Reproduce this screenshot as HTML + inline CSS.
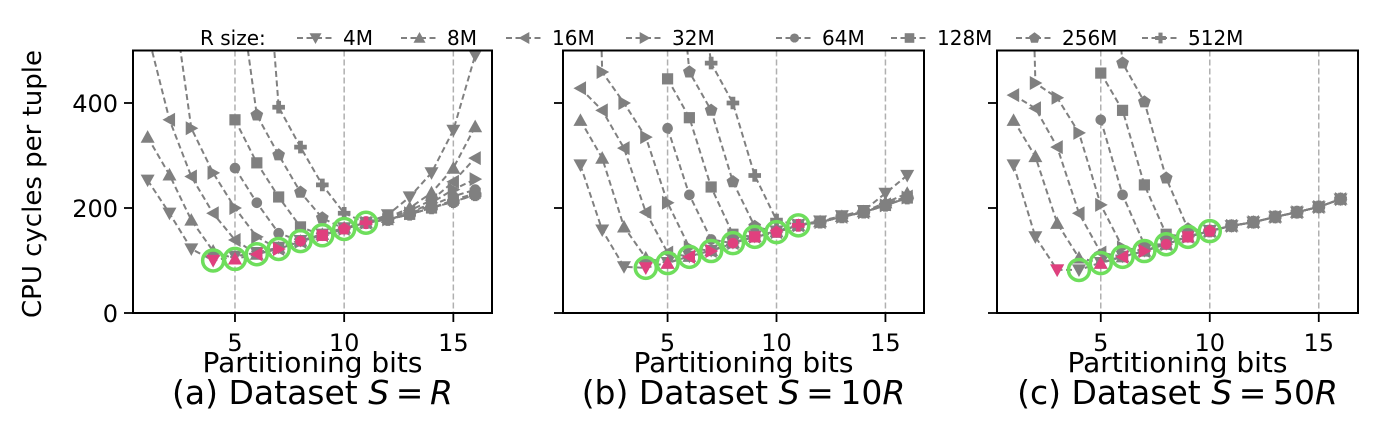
<!DOCTYPE html>
<html><head><meta charset="utf-8">
<style>
html,body{margin:0;padding:0;background:#fff;}
svg{display:block;font-family:"DejaVu Sans","Liberation Sans",sans-serif;}
</style></head>
<body>
<svg id="chart" width="1377" height="430" viewBox="0 0 1377 430" xmlns="http://www.w3.org/2000/svg"></svg>
<script>
const seriesNames = ['4M','8M','16M','32M','64M','128M','256M','512M'];
const markerShapes = ['tdown','tup','tleft','tright','circle','square','pentagon','plus'];
const xBits = [1,2,3,4,5,6,7,8,9,10,11,12,13,14,15,16];
const yTicks = [0,200,400];
const xTicks = [5,10,15];
// panel a
const a4M   = [253,190,122,100,108,115,125,138,150,162,172,187,221,267,348,491];
const a8M   = [335,263,177,118,103,112,124,137,150,162,172,182,200,229,276,355];
const a16M  = [533,368,260,190,139,112,122,136,148,160,172,180,195,215,250,295];
const a32M  = [null,650,352,267,200,145,122,136,148,160,172,178,190,210,235,255];
const a64M  = [null,null,null,null,276,210,152,137,150,160,172,178,190,205,222,235];
const a128M = [null,null,null,null,368,286,221,164,148,162,172,178,188,200,215,228];
const a256M = [null,null,null,null,680,377,301,230,181,160,172,178,188,200,212,225];
const a512M = [null,null,null,null,null,930,392,316,244,190,172,178,188,200,212,225];
const aOptX = [4,5,6,7,8,9,10,11];
const aOptY = [100,103,112,122,137,148,160,172];
const aOptShape = [0,1,2,3,4,5,6,7];
const aRingX = [4,5,6,7,8,9,10,11];
// panel b
const b4M   = [282,158,88,86,96,108,119,134,146,156,168,175,185,195,228,262];
const b8M   = [367,295,164,105,95,108,119,134,146,155,167,174,184,193,210,228];
const b16M  = [428,386,314,192,115,107,118,133,145,154,167,173,183,192,207,222];
const b32M  = [2000,459,400,335,210,125,118,133,145,154,167,173,183,192,205,220];
const b64M  = [null,null,null,null,352,225,140,133,145,154,167,173,183,192,205,219];
const b128M = [null,null,null,null,446,372,240,150,145,154,167,173,183,192,205,219];
const b256M = [null,null,null,null,900,459,386,250,165,154,167,173,183,192,205,219];
const b512M = [null,null,null,null,null,800,476,400,262,177,167,173,183,192,205,219];
const bOptX = [4,5,6,7,8,9,10,11];
const bOptY = [86,95,107,118,133,145,154,167];
const bOptShape = [0,1,2,3,4,5,6,7];
const bRingX = [4,5,6,7,8,9,10,11];
// panel c
const c4M   = [282,145,82,82,96,108,119,132,146,157,166,173,183,192,202,217];
const c8M   = [367,298,171,105,95,107,118,131,145,156,166,173,183,192,202,217];
const c16M  = [415,390,316,190,115,107,118,131,145,156,166,173,183,192,202,217];
const c32M  = [2000,438,410,343,206,125,118,131,145,156,166,173,183,192,202,217];
const c64M  = [null,null,null,null,368,225,130,131,145,156,166,173,183,192,202,217];
const c128M = [null,null,null,null,457,386,244,150,145,156,166,173,183,192,202,217];
const c256M = [null,null,null,null,900,476,402,257,160,156,166,173,183,192,202,217];
const c512M = [null,null,null,null,null,null,null,null,null,156,166,173,183,192,202,217];
const cOptX = [3,5,6,7,8,9,10];
const cOptY = [82,95,107,118,131,145,156];
const cOptShape = [0,1,2,3,4,5,6];
const cRingX = [4,5,6,7,8,9,10];

const panels = [
  {key:'a', left:133, right:492, xmin:0.33, xmax:16.77, series:[a4M,a8M,a16M,a32M,a64M,a128M,a256M,a512M], optX:aOptX, optY:aOptY, optS:aOptShape, ringX:aRingX, caption:['(a) Dataset ','S','\u2009=\u2009','R'], showY:true},
  {key:'b', left:563, right:924, xmin:0.2, xmax:16.77, series:[b4M,b8M,b16M,b32M,b64M,b128M,b256M,b512M], optX:bOptX, optY:bOptY, optS:bOptShape, ringX:bRingX, caption:['(b) Dataset ','S','\u2009=\u200910','R'], showY:false},
  {key:'c', left:997, right:1358, xmin:0.24, xmax:16.8, series:[c4M,c8M,c16M,c32M,c64M,c128M,c256M,c512M], optX:cOptX, optY:cOptY, optS:cOptShape, ringX:cRingX, caption:['(c) Dataset ','S','\u2009=\u200950','R'], showY:false}
];
const TOP=50.5, BOT=313, YMAX=500;
const svg=document.getElementById('chart');
const NS='http://www.w3.org/2000/svg';
function mk(tag,attrs,parent){const e=document.createElementNS(NS,tag);for(const k in attrs)e.setAttribute(k,attrs[k]);(parent||svg).appendChild(e);return e;}
function yS(v){return BOT-(v/YMAX)*(BOT-TOP);}
function marker(shape,cx,cy,s,fill,parent){
  let e;
  if(shape==='circle'){e=mk('circle',{cx,cy,r:s*0.38,fill},parent);}
  else if(shape==='square'){e=mk('rect',{x:cx-s*0.4,y:cy-s*0.4,width:s*0.8,height:s*0.8,fill},parent);}
  else if(shape==='plus'){e=mk('path',{d:`M${cx-s*0.45},${cy-s*0.17}h${s*0.28}v-${s*0.28}h${s*0.34}v${s*0.28}h${s*0.28}v${s*0.34}h-${s*0.28}v${s*0.28}h-${s*0.34}v-${s*0.28}h-${s*0.28}z`,fill},parent);}
  else if(shape==='pentagon'){let p=[];for(let i=0;i<5;i++){const a=-Math.PI/2+i*2*Math.PI/5;p.push((cx+s*0.48*Math.cos(a)).toFixed(1)+','+(cy+s*0.48*Math.sin(a)).toFixed(1));}e=mk('polygon',{points:p.join(' '),fill},parent);}
  else{const h=s*0.5;let p;
    if(shape==='tdown')p=[[cx-h,cy-h*0.8],[cx+h,cy-h*0.8],[cx,cy+h]];
    if(shape==='tup')p=[[cx-h,cy+h*0.8],[cx+h,cy+h*0.8],[cx,cy-h]];
    if(shape==='tleft')p=[[cx+h*0.8,cy-h],[cx+h*0.8,cy+h],[cx-h,cy]];
    if(shape==='tright')p=[[cx-h*0.8,cy-h],[cx-h*0.8,cy+h],[cx+h,cy]];
    e=mk('polygon',{points:p.map(q=>q.join(',')).join(' '),fill},parent);}
  return e;
}
panels.forEach((P)=>{
  const xS=v=>P.left+(v-P.xmin)/(P.xmax-P.xmin)*(P.right-P.left);
  const g=mk('g',{});
  
  
  const cid='clip'+P.key;
  const cp=mk('clipPath',{id:cid},g);mk('rect',{x:P.left,y:TOP,width:P.right-P.left,height:BOT-TOP},cp);
  xTicks.forEach(t=>{
    const gl=mk('line',{x1:xS(t),x2:xS(t),y1:TOP,y2:BOT,stroke:'#b0b0b0','stroke-width':1.5,'stroke-dasharray':'6,3'},g);
    
    
  });
  const plot=mk('g',{'clip-path':`url(#${cid})`},g);
  P.series.forEach((vals,si)=>{
    const sg=mk('g',{},plot);
    
    
    let segs=[],cur=[];
    vals.forEach((v,i)=>{if(v==null){if(cur.length)segs.push(cur);cur=[];}else cur.push([xS(xBits[i]),yS(v)]);});
    if(cur.length)segs.push(cur);
    segs.forEach(s=>{mk('polyline',{points:s.map(p=>p[0].toFixed(1)+','+p[1].toFixed(1)).join(' '),fill:'none',stroke:'#808080','stroke-width':2,'stroke-dasharray':'6,3.5'},sg);});
    vals.forEach((v,i)=>{if(v!=null&&v<=YMAX+10){marker(markerShapes[si],xS(xBits[i]),yS(v),14,'#808080',sg);}});
  });
  P.optX.forEach((x,i)=>{
    const m=marker(markerShapes[P.optS[i]],xS(x),yS(P.optY[i]),14,'#e0407e',plot);
    
    
  });
  P.ringX.forEach((x,i)=>{
    const idx=P.optX.indexOf(x);
    const yv = idx>=0 ? P.optY[idx] : P.series[0][x-1];
    const r=mk('circle',{cx:xS(x),cy:yS(yv),r:10.5,fill:'none',stroke:'#6ede5c','stroke-width':3.5},plot);
    
    
  });
  const fr=mk('rect',{x:P.left,y:TOP,width:P.right-P.left,height:BOT-TOP,fill:'none',stroke:'#000','stroke-width':2},g);
  
  
  xTicks.forEach(t=>{
    mk('line',{x1:xS(t),x2:xS(t),y1:BOT,y2:BOT+9,stroke:'#000','stroke-width':1.8},g);
    const tl=mk('text',{x:xS(t),y:351,'text-anchor':'middle','font-size':24},g);
    tl.textContent=t;
    
    
  });
  yTicks.forEach(t=>{
    mk('line',{x1:P.left-9,x2:P.left,y1:yS(t),y2:yS(t),stroke:'#000','stroke-width':1.8},g);
    if(P.showY){
      const tl=mk('text',{x:P.left-15,y:yS(t)+9,'text-anchor':'end','font-size':24},g);
      tl.textContent=t;
      
      
    }
  });
  const xt=mk('text',{x:(P.left+P.right)/2,y:372,'text-anchor':'middle','font-size':28},g);
  xt.textContent='Partitioning bits';
  
  
  const cap=mk('text',{x:(P.left+P.right)/2,y:404,'text-anchor':'middle','font-size':33},g);
  
  
  P.caption.forEach((s,i)=>{if(!s)return;const ts=mk('tspan',{},cap);if(s==='S'||s==='R')ts.setAttribute('font-style','italic');ts.textContent=s;});
});
const yl=mk('text',{x:0,y:0,'text-anchor':'middle','font-size':26,transform:'translate(41,184) rotate(-90)'});
yl.textContent='CPU cycles per tuple';


// legend
const lg=mk('g',{});


const lt=mk('text',{x:200,y:45,'font-size':20},lg);
lt.textContent='R size:';
const legendLabelX=[343,447,552,672,822,937,1062,1188];
seriesNames.forEach((n,i)=>{
  const lx=legendLabelX[i];
  const eg=mk('g',{},lg);
  
  
  mk('line',{x1:lx-46,x2:lx-9,y1:38,y2:38,stroke:'#808080','stroke-width':2,'stroke-dasharray':'6,3.5'},eg);
  marker(markerShapes[i],lx-27.5,38,12,'#808080',eg);
  const t=mk('text',{x:lx,y:45,'font-size':20},eg);
  t.textContent=n;
});
</script>
</body></html>
